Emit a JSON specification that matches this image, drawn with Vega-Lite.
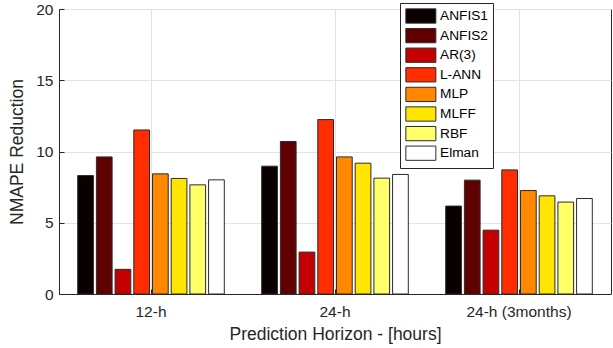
{
  "$schema": "https://vega.github.io/schema/vega-lite/v6.json",
  "width": 552,
  "height": 285,
  "autosize": {"type": "none"},
  "padding": {"left": 59, "top": 9, "right": 2, "bottom": 54},
  "background": "white",
  "config": {
    "font": "Liberation Sans",
    "view": {"stroke": "#262626", "strokeWidth": 1},
    "axis": {
      "labelFont": "Liberation Sans",
      "titleFont": "Liberation Sans",
      "labelColor": "#262626",
      "titleColor": "#262626",
      "domainColor": "#262626",
      "tickColor": "#262626",
      "gridColor": "#e3e3e3",
      "gridWidth": 1,
      "labelFontSize": 15.5,
      "titleFontSize": 17.5,
      "titleFontWeight": "normal"
    },
    "legend": {
      "labelFont": "Liberation Sans"
    }
  },
  "data": {
    "values": [
      {"horizon": "12-h", "model": "ANFIS1", "value": 8.31},
      {"horizon": "12-h", "model": "ANFIS2", "value": 9.62},
      {"horizon": "12-h", "model": "AR(3)", "value": 1.73},
      {"horizon": "12-h", "model": "L-ANN", "value": 11.51},
      {"horizon": "12-h", "model": "MLP", "value": 8.43},
      {"horizon": "12-h", "model": "MLFF", "value": 8.11},
      {"horizon": "12-h", "model": "RBF", "value": 7.66},
      {"horizon": "12-h", "model": "Elman", "value": 8.01},
      {"horizon": "24-h", "model": "ANFIS1", "value": 8.97},
      {"horizon": "24-h", "model": "ANFIS2", "value": 10.70},
      {"horizon": "24-h", "model": "AR(3)", "value": 2.94},
      {"horizon": "24-h", "model": "L-ANN", "value": 12.24},
      {"horizon": "24-h", "model": "MLP", "value": 9.62},
      {"horizon": "24-h", "model": "MLFF", "value": 9.18},
      {"horizon": "24-h", "model": "RBF", "value": 8.13},
      {"horizon": "24-h", "model": "Elman", "value": 8.39},
      {"horizon": "24-h (3months)", "model": "ANFIS1", "value": 6.17},
      {"horizon": "24-h (3months)", "model": "ANFIS2", "value": 7.99},
      {"horizon": "24-h (3months)", "model": "AR(3)", "value": 4.48},
      {"horizon": "24-h (3months)", "model": "L-ANN", "value": 8.71},
      {"horizon": "24-h (3months)", "model": "MLP", "value": 7.26},
      {"horizon": "24-h (3months)", "model": "MLFF", "value": 6.89},
      {"horizon": "24-h (3months)", "model": "RBF", "value": 6.45},
      {"horizon": "24-h (3months)", "model": "Elman", "value": 6.70}
    ]
  },
  "mark": {"type": "bar", "stroke": "#2b2b2b", "strokeWidth": 1},
  "encoding": {
    "x": {
      "field": "horizon",
      "type": "nominal",
      "sort": ["12-h", "24-h", "24-h (3months)"],
      "scale": {"paddingInner": 0, "paddingOuter": 0},
      "axis": {
        "title": "Prediction Horizon - [hours]",
        "labelAngle": 0,
        "grid": true,
        "ticks": true,
        "tickSize": -5,
        "labelPadding": 15,
        "titlePadding": 6,
        "domain": true
      }
    },
    "xOffset": {
      "field": "model",
      "type": "nominal",
      "sort": ["ANFIS1", "ANFIS2", "AR(3)", "L-ANN", "MLP", "MLFF", "RBF", "Elman"],
      "scale": {"paddingInner": 0.16, "paddingOuter": 1.05}
    },
    "y": {
      "field": "value",
      "type": "quantitative",
      "scale": {"domain": [0, 20], "nice": false},
      "axis": {
        "title": "NMAPE Reduction",
        "values": [0, 5, 10, 15, 20],
        "grid": true,
        "ticks": true,
        "tickSize": -5,
        "labelPadding": 11,
        "titlePadding": 9
      }
    },
    "fill": {
      "field": "model",
      "type": "nominal",
      "sort": ["ANFIS1", "ANFIS2", "AR(3)", "L-ANN", "MLP", "MLFF", "RBF", "Elman"],
      "scale": {
        "domain": ["ANFIS1", "ANFIS2", "AR(3)", "L-ANN", "MLP", "MLFF", "RBF", "Elman"],
        "range": ["#0b0000", "#600000", "#c40000", "#ff2d00", "#ff8800", "#ffe500", "#ffff6a", "#ffffff"]
      },
      "legend": {
        "title": null,
        "orient": "none",
        "legendX": 341,
        "legendY": -6,
        "padding": 5,
        "strokeColor": "#262626",
        "fillColor": "#ffffff",
        "symbolType": "M-1,-1H3.2V1H-1Z",
        "symbolSize": 204,
        "symbolStrokeColor": "#2b2b2b",
        "symbolStrokeWidth": 1,
        "labelOffset": 19,
        "labelFontSize": 13.7,
        "labelColor": "#000000",
        "rowPadding": -0.4
      }
    }
  }
}
